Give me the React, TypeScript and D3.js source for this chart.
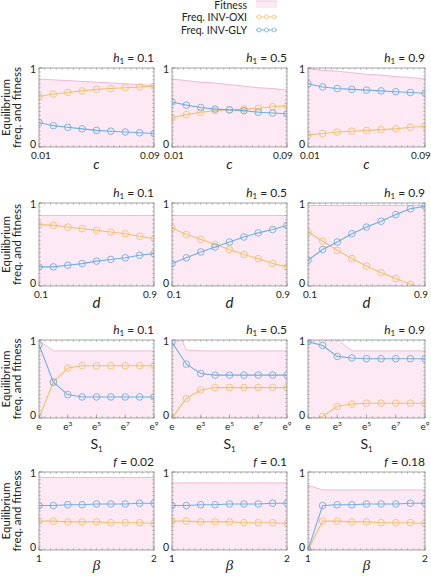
import React from 'react';
import * as d3 from 'd3';

// ---------- data ----------
const cValues = [0.01, 0.02, 0.03, 0.04, 0.05, 0.06, 0.07, 0.08, 0.09];
const dValues = [0.1, 0.2, 0.3, 0.4, 0.5, 0.6, 0.7, 0.8, 0.9];
const s1Exponents = [1, 2, 3, 4, 5, 6, 7, 8, 9];
const betaValues = [1, 1.125, 1.25, 1.375, 1.5, 1.625, 1.75, 1.875, 2];

const h1Titles = ['0.1', '0.5', '0.9'];
const fTitles = ['0.02', '0.1', '0.18'];

const cTicks = [0.01, 0.09];
const dTicks = [0.1, 0.9];
const s1Ticks = [1, 3, 5, 7, 9];
const betaTicks = [1, 2];
const yTicks = [0, 1];

// row 1: x = c
const fitnessC = [
  [0.86, 0.85, 0.84, 0.83, 0.82, 0.81, 0.8, 0.79, 0.78],
  [0.86, 0.84, 0.82, 0.81, 0.79, 0.77, 0.75, 0.74, 0.72],
  [0.99, 0.97, 0.96, 0.94, 0.92, 0.91, 0.89, 0.88, 0.86],
];
const oxiC = [
  [0.64, 0.67, 0.69, 0.71, 0.73, 0.74, 0.75, 0.76, 0.77],
  [0.37, 0.41, 0.44, 0.46, 0.47, 0.48, 0.49, 0.51, 0.52],
  [0.15, 0.17, 0.19, 0.2, 0.21, 0.22, 0.23, 0.25, 0.26],
];
const glyC = [
  [0.31, 0.27, 0.25, 0.23, 0.21, 0.2, 0.19, 0.18, 0.17],
  [0.57, 0.53, 0.5, 0.48, 0.47, 0.46, 0.44, 0.43, 0.42],
  [0.8, 0.76, 0.74, 0.73, 0.72, 0.71, 0.7, 0.69, 0.68],
];

// row 2: x = d
const fitnessD = [
  [0.85, 0.85, 0.85, 0.85, 0.85, 0.85, 0.85, 0.85, 0.85],
  [0.85, 0.85, 0.85, 0.85, 0.85, 0.85, 0.85, 0.85, 0.85],
  [0.97, 0.97, 0.97, 0.97, 0.97, 0.97, 0.97, 0.97, 0.97],
];
const oxiD = [
  [0.74, 0.73, 0.71, 0.69, 0.67, 0.65, 0.63, 0.6, 0.57],
  [0.7, 0.62, 0.56, 0.5, 0.44, 0.38, 0.33, 0.27, 0.23],
  [0.65, 0.54, 0.43, 0.33, 0.24, 0.16, 0.09, 0.02, -0.04],
];
const glyD = [
  [0.23, 0.23, 0.25, 0.27, 0.3, 0.32, 0.34, 0.37, 0.39],
  [0.27, 0.34, 0.41, 0.47, 0.53, 0.59, 0.64, 0.68, 0.73],
  [0.31, 0.44, 0.53, 0.63, 0.71, 0.78, 0.86, 0.93, 0.96],
];

// row 3: x = S1 (e^1 .. e^9)
const fitnessS = [
  [0.99, 0.86, 0.86, 0.86, 0.86, 0.86, 0.86, 0.86, 0.86],
  [1.26, 0.87, 0.86, 0.86, 0.86, 0.86, 0.86, 0.86, 0.86],
  [1.3, 1.15, 1.01, 0.86, 0.86, 0.86, 0.86, 0.86, 0.86],
];
const oxiS = [
  [0.0, 0.46, 0.64, 0.67, 0.67, 0.67, 0.67, 0.67, 0.67],
  [0.0, 0.25, 0.36, 0.39, 0.39, 0.39, 0.39, 0.39, 0.39],
  [-0.03, 0.02, 0.15, 0.18, 0.19, 0.19, 0.19, 0.19, 0.19],
];
const glyS = [
  [0.94, 0.46, 0.3, 0.27, 0.27, 0.27, 0.27, 0.27, 0.27],
  [0.97, 0.69, 0.57, 0.55, 0.55, 0.55, 0.55, 0.55, 0.55],
  [0.98, 0.93, 0.79, 0.77, 0.76, 0.76, 0.76, 0.76, 0.76],
];

// row 4: x = beta
const fitnessB = [
  [0.93, 0.93, 0.93, 0.93, 0.93, 0.93, 0.93, 0.93, 0.93],
  [0.86, 0.86, 0.86, 0.86, 0.86, 0.86, 0.86, 0.86, 0.86],
  [0.83, 0.77, 0.77, 0.77, 0.77, 0.77, 0.77, 0.77, 0.77],
];
const oxiB = [
  [0.37, 0.37, 0.36, 0.36, 0.36, 0.35, 0.35, 0.35, 0.34],
  [0.37, 0.37, 0.36, 0.36, 0.36, 0.35, 0.35, 0.35, 0.34],
  [0.0, 0.37, 0.37, 0.36, 0.36, 0.35, 0.35, 0.35, 0.34],
];
const glyB = [
  [0.57, 0.57, 0.58, 0.58, 0.59, 0.59, 0.59, 0.6, 0.6],
  [0.57, 0.57, 0.58, 0.58, 0.59, 0.59, 0.59, 0.6, 0.6],
  [0.0, 0.57, 0.58, 0.58, 0.59, 0.59, 0.59, 0.6, 0.6],
];

// ---------- style ----------
const FONT = 'Lato, "DejaVu Sans", sans-serif';
const SERIF = '"Liberation Serif", "DejaVu Serif", serif';
const PINK_FILL = '#fde9f3';
const PINK_LINE = '#f4b6d5';
const ORANGE = '#f0c170';
const BLUE = '#6eaee2';
const FRAME = '#8e8e8e';
const TEXT = '#222';

const W = 431;
const H = 578;
const colLeft = [39, 172, 308];
const colRight = [154, 287, 425];
const rowTop = [68, 203, 340, 472];
const rowBottom = [147, 286, 418, 550];

type RowCfg = {
  xs: number[];
  domain: [number, number];
  ticks: number[];
  tickLabel: (v: number) => React.ReactNode;
  edgeShift: boolean;
  titleVar: 'h' | 'f';
  titles: string[];
  fitness: number[][];
  oxi: number[][];
  gly: number[][];
  xLabel: React.ReactNode;
  xLabelDy: number;
  xLabelSize: number;
};

const rows: RowCfg[] = [
  {
    xs: cValues, domain: [0.01, 0.09], ticks: cTicks,
    tickLabel: (v) => d3.format('.2f')(v), edgeShift: true,
    titleVar: 'h', titles: h1Titles,
    fitness: fitnessC, oxi: oxiC, gly: glyC,
    xLabel: <tspan fontStyle="italic">c</tspan>, xLabelDy: 22, xLabelSize: 14,
  },
  {
    xs: dValues, domain: [0.1, 0.9], ticks: dTicks,
    tickLabel: (v) => d3.format('.1f')(v), edgeShift: true,
    titleVar: 'h', titles: h1Titles,
    fitness: fitnessD, oxi: oxiD, gly: glyD,
    xLabel: <tspan fontStyle="italic">d</tspan>, xLabelDy: 22, xLabelSize: 15,
  },
  {
    xs: s1Exponents, domain: [1, 9], ticks: s1Ticks,
    tickLabel: (v) => (v === 1 ? 'e' : (
      <>
        <tspan>e</tspan>
        <tspan dy={-4} fontSize={6.5}>{v}</tspan>
      </>
    )), edgeShift: false,
    titleVar: 'h', titles: h1Titles,
    fitness: fitnessS, oxi: oxiS, gly: glyS,
    xLabel: (
      <>
        <tspan>S</tspan>
        <tspan dy={3} fontSize={8}>1</tspan>
      </>
    ), xLabelDy: 31, xLabelSize: 14,
  },
  {
    xs: betaValues, domain: [1, 2], ticks: betaTicks,
    tickLabel: (v) => d3.format('d')(v), edgeShift: false,
    titleVar: 'f', titles: fTitles,
    fitness: fitnessB, oxi: oxiB, gly: glyB,
    xLabel: <tspan fontStyle="italic" fontFamily={SERIF}>β</tspan>, xLabelDy: 20, xLabelSize: 15,
  },
];

function Panel({ r, c }: { r: number; c: number }) {
  const row = rows[r];
  const x0 = colLeft[c], x1 = colRight[c];
  const y0 = rowTop[r], y1 = rowBottom[r];
  const xScale = d3.scaleLinear().domain(row.domain).range([x0, x1]);
  const yScale = d3.scaleLinear().domain([0, 1]).range([y1, y0]);
  const clipId = `clip-${r}-${c}`;

  const fit = row.fitness[c];
  const area = d3.area<number>()
    .x((_, i) => xScale(row.xs[i]))
    .y0(yScale(0))
    .y1((d) => yScale(d));
  const line = d3.line<number>()
    .x((_, i) => xScale(row.xs[i]))
    .y((d) => yScale(d));

  const minorX = d3.range(0, 21).map((k) => x0 + (k * (x1 - x0)) / 20);
  const minorY = d3.range(0, 21).map((k) => y0 + (k * (y1 - y0)) / 20);

  const series = [
    { vals: row.oxi[c], color: ORANGE },
    { vals: row.gly[c], color: BLUE },
  ];

  const tickShift = (i: number) => {
    if (!row.edgeShift) return 0;
    return i === 0 ? 2 : -4;
  };

  return (
    <g>
      <defs>
        <clipPath id={clipId}>
          <rect x={x0} y={y0} width={x1 - x0} height={y1 - y0} />
        </clipPath>
      </defs>
      <g clipPath={`url(#${clipId})`}>
        <path d={area(fit) || ''} fill={PINK_FILL} />
        <path d={line(fit) || ''} fill="none" stroke={PINK_LINE} strokeWidth={1} />
        {series.map((s, si) => (
          <g key={si}>
            <path d={line(s.vals) || ''} fill="none" stroke={s.color} strokeWidth={1.1} />
            {s.vals.map((v, i) => (
              <circle key={i} cx={xScale(row.xs[i])} cy={yScale(v)} r={3.3}
                fill="none" stroke={s.color} strokeWidth={0.9} />
            ))}
          </g>
        ))}
      </g>
      <rect x={x0} y={y0} width={x1 - x0} height={y1 - y0} fill="none" stroke={FRAME} strokeWidth={0.8} />
      {minorX.map((x, i) => (
        <g key={'mx' + i}>
          <line x1={x} x2={x} y1={y1} y2={y1 - 1.8} stroke={FRAME} strokeWidth={0.6} />
          <line x1={x} x2={x} y1={y0} y2={y0 + 1.8} stroke={FRAME} strokeWidth={0.6} />
        </g>
      ))}
      {minorY.map((y, i) => (
        <g key={'my' + i}>
          <line x1={x0} x2={x0 + 1.8} y1={y} y2={y} stroke={FRAME} strokeWidth={0.6} />
          <line x1={x1} x2={x1 - 1.8} y1={y} y2={y} stroke={FRAME} strokeWidth={0.6} />
        </g>
      ))}
      {row.ticks.map((t, i) => (
        <line key={'mt' + i} x1={xScale(t)} x2={xScale(t)} y1={y1} y2={y1 - 3.5} stroke={FRAME} strokeWidth={0.7} />
      ))}
      {yTicks.map((t, i) => (
        <line key={'yt' + i} x1={x0} x2={x0 + 3.5} y1={yScale(t)} y2={yScale(t)} stroke={FRAME} strokeWidth={0.7} />
      ))}
      {row.ticks.map((t, i) => (
        <text key={'xl' + i} x={xScale(t) + tickShift(i)} y={y1 + 12} textAnchor="middle" fontSize={10}
          fontFamily={FONT} fill={TEXT}>
          {row.tickLabel(t)}
        </text>
      ))}
      {yTicks.map((t, i) => (
        <text key={'yl' + i} x={x0 - 3} y={yScale(t) + (t === 0 ? 1 : 5)} textAnchor="end" fontSize={10.5}
          fontFamily={FONT} fill={TEXT}>
          {d3.format('d')(t)}
        </text>
      ))}
      <text x={(x0 + x1) / 2} y={y1 + row.xLabelDy} textAnchor="middle"
        fontSize={row.xLabelSize} fontFamily={FONT} fill={TEXT}>
        {row.xLabel}
      </text>
      <text x={x1} y={y0 - 6} textAnchor="end" fontSize={12} fontFamily={FONT} fill={TEXT}>
        {row.titleVar === 'h' ? (
          <>
            <tspan fontStyle="italic">h</tspan>
            <tspan dy={2} fontSize={8}>1</tspan>
            <tspan dy={-2}>{` = ${row.titles[c]}`}</tspan>
          </>
        ) : (
          <>
            <tspan fontStyle="italic">f</tspan>
            <tspan>{` = ${row.titles[c]}`}</tspan>
          </>
        )}
      </text>
    </g>
  );
}

function YLabel({ r }: { r: number }) {
  const cy = (rowTop[r] + rowBottom[r]) / 2;
  return (
    <g>
      <text transform={`translate(10,${cy}) rotate(-90)`} textAnchor="middle" fontSize={11.5}
        fontFamily={FONT} fill={TEXT}>Equilibrium</text>
      <text transform={`translate(21,${cy}) rotate(-90)`} textAnchor="middle" fontSize={11.5}
        fontFamily={FONT} fill={TEXT}>freq. and fitness</text>
    </g>
  );
}

function Legend() {
  const tx = 247;
  const sx0 = 256, sx1 = 277;
  const ys = [5, 17, 30];
  return (
    <g fontFamily={FONT} fontSize={10.5} fill={TEXT}>
      <text x={tx} y={ys[0] + 3.5} textAnchor="end">Fitness</text>
      <rect x={sx0} y={ys[0] - 4} width={sx1 - sx0} height={7} fill={PINK_FILL} />
      <line x1={sx0} x2={sx1} y1={ys[0] - 4} y2={ys[0] - 4} stroke={PINK_LINE} strokeWidth={0.8} />
      {[
        { label: 'Freq. INV-OXI', color: ORANGE, y: ys[1] },
        { label: 'Freq. INV-GLY', color: BLUE, y: ys[2] },
      ].map((e, i) => (
        <g key={i}>
          <text x={tx} y={e.y + 3.5} textAnchor="end">{e.label}</text>
          <line x1={sx0} x2={sx1} y1={e.y} y2={e.y} stroke={e.color} strokeWidth={0.9} />
          {[sx0 + 3, (sx0 + sx1) / 2, sx1 - 3].map((cx, k) => (
            <circle key={k} cx={cx} cy={e.y} r={2} fill="white" stroke={e.color} strokeWidth={0.8} />
          ))}
        </g>
      ))}
    </g>
  );
}

export default function App() {
  return (
    <div style={{ position: 'absolute', left: 0, top: 0, width: W, height: H, background: 'white' }}>
      <svg width={W} height={H} viewBox={`0 0 ${W} ${H}`} style={{ display: 'block' }}>
        <rect width={W} height={H} fill="white" />
        <Legend />
        {rows.map((_, r) => (
          <g key={r}>
            <YLabel r={r} />
            {[0, 1, 2].map((c) => <Panel key={c} r={r} c={c} />)}
          </g>
        ))}
      </svg>
    </div>
  );
}
